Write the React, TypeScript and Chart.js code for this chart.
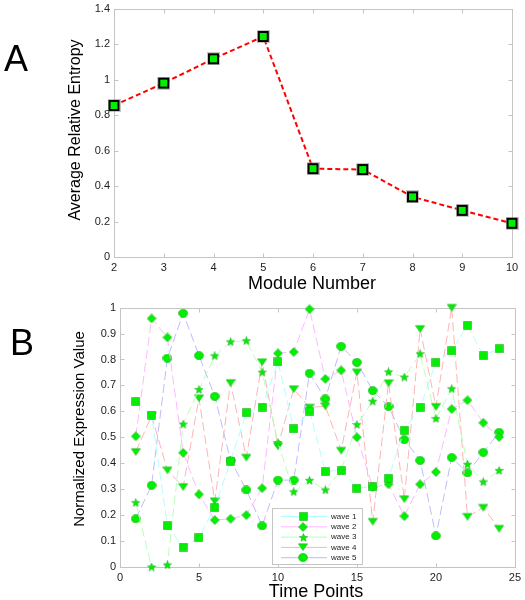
import React, { useEffect, useRef } from "react";
import { Chart, registerables } from "chart.js";

Chart.register(...registerables);

const FONT = '"Liberation Sans", Arial, Helvetica, sans-serif';

// ---------- Panel A data ----------
const moduleNumbers = [2, 3, 4, 5, 6, 7, 8, 9, 10];
const avgEntropy = [0.854, 0.98, 1.117, 1.243, 0.498, 0.493, 0.339, 0.263, 0.19];
const xTicksA = [2, 3, 4, 5, 6, 7, 8, 9, 10];
const yTicksA = [0, 0.2, 0.4, 0.6, 0.8, 1, 1.2, 1.4];

// ---------- Panel B data ----------
const timePoints = [1, 2, 3, 4, 5, 6, 7, 8, 9, 10, 11, 12, 13, 14, 15, 16, 17, 18, 19, 20, 21, 22, 23, 24];
const waveNames = ["wave 1", "wave 2", "wave 3", "wave 4", "wave 5"];
const wave1 = [0.638, 0.585, 0.159, 0.077, 0.113, 0.229, 0.408, 0.595, 0.616, 0.791, 0.533, 0.601, 0.368, 0.373, 0.304, 0.309, 0.342, 0.528, 0.615, 0.789, 0.833, 0.932, 0.815, 0.842];
const wave2 = [0.504, 0.958, 0.885, 0.44, 0.28, 0.181, 0.186, 0.2, 0.304, 0.824, 0.829, 0.994, 0.725, 0.758, 0.5, 0.308, 0.319, 0.196, 0.319, 0.366, 0.609, 0.643, 0.556, 0.501];
const wave3 = [0.248, 0.0, 0.008, 0.551, 0.684, 0.814, 0.868, 0.872, 0.751, 0.48, 0.29, 0.334, 0.297, 0.373, 0.549, 0.639, 0.752, 0.732, 0.822, 0.572, 0.687, 0.396, 0.328, 0.372];
const wave4 = [0.444, 0.584, 0.373, 0.309, 0.651, 0.254, 0.71, 0.422, 0.79, 0.466, 0.686, 0.615, 0.62, 0.449, 0.751, 0.175, 0.709, 0.262, 0.918, 0.618, 1.0, 0.194, 0.229, 0.148];
const wave5 = [0.186, 0.315, 0.805, 0.978, 0.815, 0.658, 0.411, 0.297, 0.159, 0.335, 0.335, 0.747, 0.648, 0.851, 0.789, 0.68, 0.619, 0.491, 0.411, 0.12, 0.422, 0.363, 0.442, 0.519];
const waveColors = ["#b0ffff", "#ffb8ff", "#b8ffb8", "#ffb4b4", "#bcbcff"];
const xTicksB = [0, 5, 10, 15, 20, 25];
const yTicksB = [0, 0.1, 0.2, 0.3, 0.4, 0.5, 0.6, 0.7, 0.8, 0.9, 1];

const LIME = "#00f000";
const EDGE = "rgba(40,170,40,0.8)";

function makeCanvas(w: number, h: number, draw: (ctx: CanvasRenderingContext2D) => void) {
  const c = document.createElement("canvas");
  c.width = w;
  c.height = h;
  const ctx = c.getContext("2d")!;
  draw(ctx);
  return c;
}

function fmt(v: number) {
  return String(Number(v.toFixed(1)));
}

const framePlugin = {
  id: "frame",
  beforeDatasetsDraw(chart: any) {
    const { ctx, chartArea: a, scales } = chart;
    ctx.save();
    ctx.strokeStyle = "#c4c4c4";
    ctx.lineWidth = 1;
    const l = Math.round(a.left) + 0.5;
    const t = Math.round(a.top) + 0.5;
    const r = Math.round(a.right) + 0.5;
    const b = Math.round(a.bottom) + 0.5;
    ctx.strokeRect(l, t, r - l, b - t);
    const tl = 4;
    ctx.beginPath();
    scales.x.ticks.forEach((tk: any) => {
      const px = Math.round(scales.x.getPixelForValue(tk.value)) + 0.5;
      ctx.moveTo(px, b);
      ctx.lineTo(px, b - tl);
      ctx.moveTo(px, t);
      ctx.lineTo(px, t + tl);
    });
    scales.y.ticks.forEach((tk: any) => {
      const py = Math.round(scales.y.getPixelForValue(tk.value)) + 0.5;
      ctx.moveTo(l, py);
      ctx.lineTo(l + tl, py);
      ctx.moveTo(r, py);
      ctx.lineTo(r - tl, py);
    });
    ctx.stroke();
    ctx.restore();
  },
};

function textPlugin(items: { text: string; x: number; y: number; size: number; rot?: boolean }[]) {
  return {
    id: "texts",
    afterDraw(chart: any) {
      const ctx = chart.ctx;
      ctx.save();
      ctx.fillStyle = "#000";
      ctx.textAlign = "center";
      ctx.textBaseline = "middle";
      items.forEach((it) => {
        ctx.save();
        ctx.font = `${it.size}px ${FONT}`;
        ctx.translate(it.x, it.y);
        if (it.rot) ctx.rotate(-Math.PI / 2);
        ctx.fillText(it.text, 0, 0);
        ctx.restore();
      });
      ctx.restore();
    },
  };
}

const tickFont = { family: FONT, size: 11 };

export default function App() {
  const refA = useRef<HTMLCanvasElement>(null);
  const refB = useRef<HTMLCanvasElement>(null);

  useEffect(() => {
    // ---------- markers ----------
    const sqA = makeCanvas(13, 13, (c) => {
      c.fillStyle = "rgba(150,150,150,0.55)";
      c.fillRect(0, 0, 13, 13);
      c.fillStyle = "#000";
      c.fillRect(1, 1, 11, 11);
      c.fillStyle = LIME;
      c.fillRect(3, 3, 7, 7);
    });
    const finish = (c: CanvasRenderingContext2D) => {
      c.fillStyle = LIME;
      c.fill();
      c.strokeStyle = EDGE;
      c.lineWidth = 0.7;
      c.stroke();
    };
    const mSquare = makeCanvas(9, 9, (c) => {
      c.beginPath();
      c.rect(0.5, 0.5, 8, 8);
      finish(c);
    });
    const mDiamond = makeCanvas(10, 10, (c) => {
      c.beginPath();
      c.moveTo(5, 0.5);
      c.lineTo(9.5, 5);
      c.lineTo(5, 9.5);
      c.lineTo(0.5, 5);
      c.closePath();
      finish(c);
    });
    const mStar = makeCanvas(9, 9, (c) => {
      c.beginPath();
      for (let i = 0; i < 10; i++) {
        const r = i % 2 === 0 ? 4.3 : 1.9;
        const ang = -Math.PI / 2 + (i * Math.PI) / 5;
        const px = 4.5 + r * Math.cos(ang);
        const py = 4.8 + r * Math.sin(ang);
        if (i === 0) c.moveTo(px, py);
        else c.lineTo(px, py);
      }
      c.closePath();
      finish(c);
    });
    const mTri = makeCanvas(10, 10, (c) => {
      c.beginPath();
      c.moveTo(0.4, 1.8);
      c.lineTo(9.6, 1.8);
      c.lineTo(5, 8.6);
      c.closePath();
      finish(c);
    });
    const mCircle = makeCanvas(10, 9, (c) => {
      c.beginPath();
      c.ellipse(5, 4.5, 4.5, 4.1, 0, 0, Math.PI * 2);
      finish(c);
    });
    const markersB = [mSquare, mDiamond, mStar, mTri, mCircle];
    const waves = [wave1, wave2, wave3, wave4, wave5];

    // ---------- Chart A ----------
    const chartA = new Chart(refA.current!, {
      type: "line",
      data: {
        datasets: [
          {
            label: "Average Relative Entropy",
            data: moduleNumbers.map((x, i) => ({ x, y: avgEntropy[i] })),
            borderColor: "#ff0000",
            borderWidth: 2,
            borderDash: [5, 3],
            pointStyle: sqA as any,
            pointRadius: 6,
            pointHoverRadius: 6,
            tension: 0,
            clip: false as any,
          },
        ],
      },
      options: {
        animation: false,
        responsive: false,
        devicePixelRatio: 1,
        events: [],
        layout: { padding: { top: 7, right: 13, left: 0, bottom: 0 } },
        plugins: { legend: { display: false }, tooltip: { enabled: false } },
        scales: {
          x: {
            type: "linear",
            min: 2,
            max: 10,
            grid: { display: false, drawTicks: false },
            border: { display: false },
            ticks: { font: tickFont, color: "#222", padding: 4, maxRotation: 0, autoSkip: false },
            afterBuildTicks: (s: any) => {
              s.ticks = xTicksA.map((v) => ({ value: v }));
            },
            afterFit: (s: any) => {
              s.height = 43;
            },
          },
          y: {
            type: "linear",
            min: 0,
            max: 1.4,
            grid: { display: false, drawTicks: false },
            border: { display: false },
            ticks: { font: tickFont, color: "#222", padding: 4, callback: (v: any) => fmt(Number(v)) },
            afterBuildTicks: (s: any) => {
              s.ticks = yTicksA.map((v) => ({ value: v }));
            },
            afterFit: (s: any) => {
              s.width = 114;
            },
          },
        },
      },
      plugins: [
        framePlugin,
        textPlugin([
          { text: "A", x: 16, y: 63, size: 36 },
          { text: "Average Relative Entropy", x: 76, y: 132, size: 16, rot: true },
          { text: "Module Number", x: 312, y: 286, size: 18 },
        ]),
      ],
    } as any);

    // ---------- Chart B ----------
    const legendPlugin = {
      id: "waveLegend",
      afterDraw(chart: any) {
        const ctx = chart.ctx;
        ctx.save();
        const bx = 272.5, by = 211.5, bw = 90, bh = 56;
        ctx.fillStyle = "#fff";
        ctx.fillRect(bx, by, bw, bh);
        ctx.strokeStyle = "#c4c4c4";
        ctx.lineWidth = 1;
        ctx.strokeRect(bx, by, bw, bh);
        chart.data.datasets.forEach((ds: any, i: number) => {
          const y = 219.5 + i * 10.3;
          ctx.strokeStyle = ds.borderColor;
          ctx.lineWidth = 1;
          ctx.setLineDash([]);
          ctx.beginPath();
          ctx.moveTo(281, y);
          ctx.lineTo(327, y);
          ctx.stroke();
          const m = ds.pointStyle as HTMLCanvasElement;
          ctx.drawImage(m, Math.round(303 - m.width / 2), Math.round(y - m.height / 2));
          ctx.fillStyle = "#222";
          ctx.font = `8px ${FONT}`;
          ctx.textAlign = "left";
          ctx.textBaseline = "middle";
          ctx.fillText(ds.label, 331, y);
        });
        ctx.restore();
      },
    };

    const chartB = new Chart(refB.current!, {
      type: "line",
      data: {
        datasets: waves.map((w, k) => ({
          label: waveNames[k],
          data: timePoints.map((x, i) => ({ x, y: w[i] })),
          borderColor: waveColors[k],
          borderWidth: 1,
          borderDash: [9, 4],
          pointStyle: markersB[k] as any,
          pointRadius: 4,
          pointHoverRadius: 4,
          tension: 0,
          clip: false as any,
        })),
      },
      options: {
        animation: false,
        responsive: false,
        devicePixelRatio: 1,
        events: [],
        layout: { padding: { top: 7, right: 9, left: 0, bottom: 0 } },
        plugins: { legend: { display: false }, tooltip: { enabled: false } },
        scales: {
          x: {
            type: "linear",
            min: 0,
            max: 25,
            grid: { display: false, drawTicks: false },
            border: { display: false },
            ticks: { font: tickFont, color: "#222", padding: 4, maxRotation: 0, autoSkip: false },
            afterBuildTicks: (s: any) => {
              s.ticks = xTicksB.map((v) => ({ value: v }));
            },
            afterFit: (s: any) => {
              s.height = 33;
            },
          },
          y: {
            type: "linear",
            min: 0,
            max: 1,
            grid: { display: false, drawTicks: false },
            border: { display: false },
            ticks: { font: tickFont, color: "#222", padding: 4, callback: (v: any) => fmt(Number(v)) },
            afterBuildTicks: (s: any) => {
              s.ticks = yTicksB.map((v) => ({ value: v }));
            },
            afterFit: (s: any) => {
              s.width = 120;
            },
          },
        },
      },
      plugins: [
        framePlugin,
        legendPlugin,
        textPlugin([
          { text: "B", x: 22, y: 48, size: 36 },
          { text: "Normalized Expression Value", x: 80, y: 132, size: 15, rot: true },
          { text: "Time Points", x: 316, y: 295, size: 18 },
        ]),
      ],
    } as any);

    return () => {
      chartA.destroy();
      chartB.destroy();
    };
  }, []);

  return (
    <div style={{ position: "absolute", left: 0, top: 0, width: 525, height: 600, overflow: "hidden", background: "#fff" }}>
      <canvas ref={refA} width={525} height={302} style={{ position: "absolute", left: 0, top: -2, width: 525, height: 302 }} />
      <canvas ref={refB} width={525} height={303} style={{ position: "absolute", left: 0, top: 297, width: 525, height: 303 }} />
    </div>
  );
}
